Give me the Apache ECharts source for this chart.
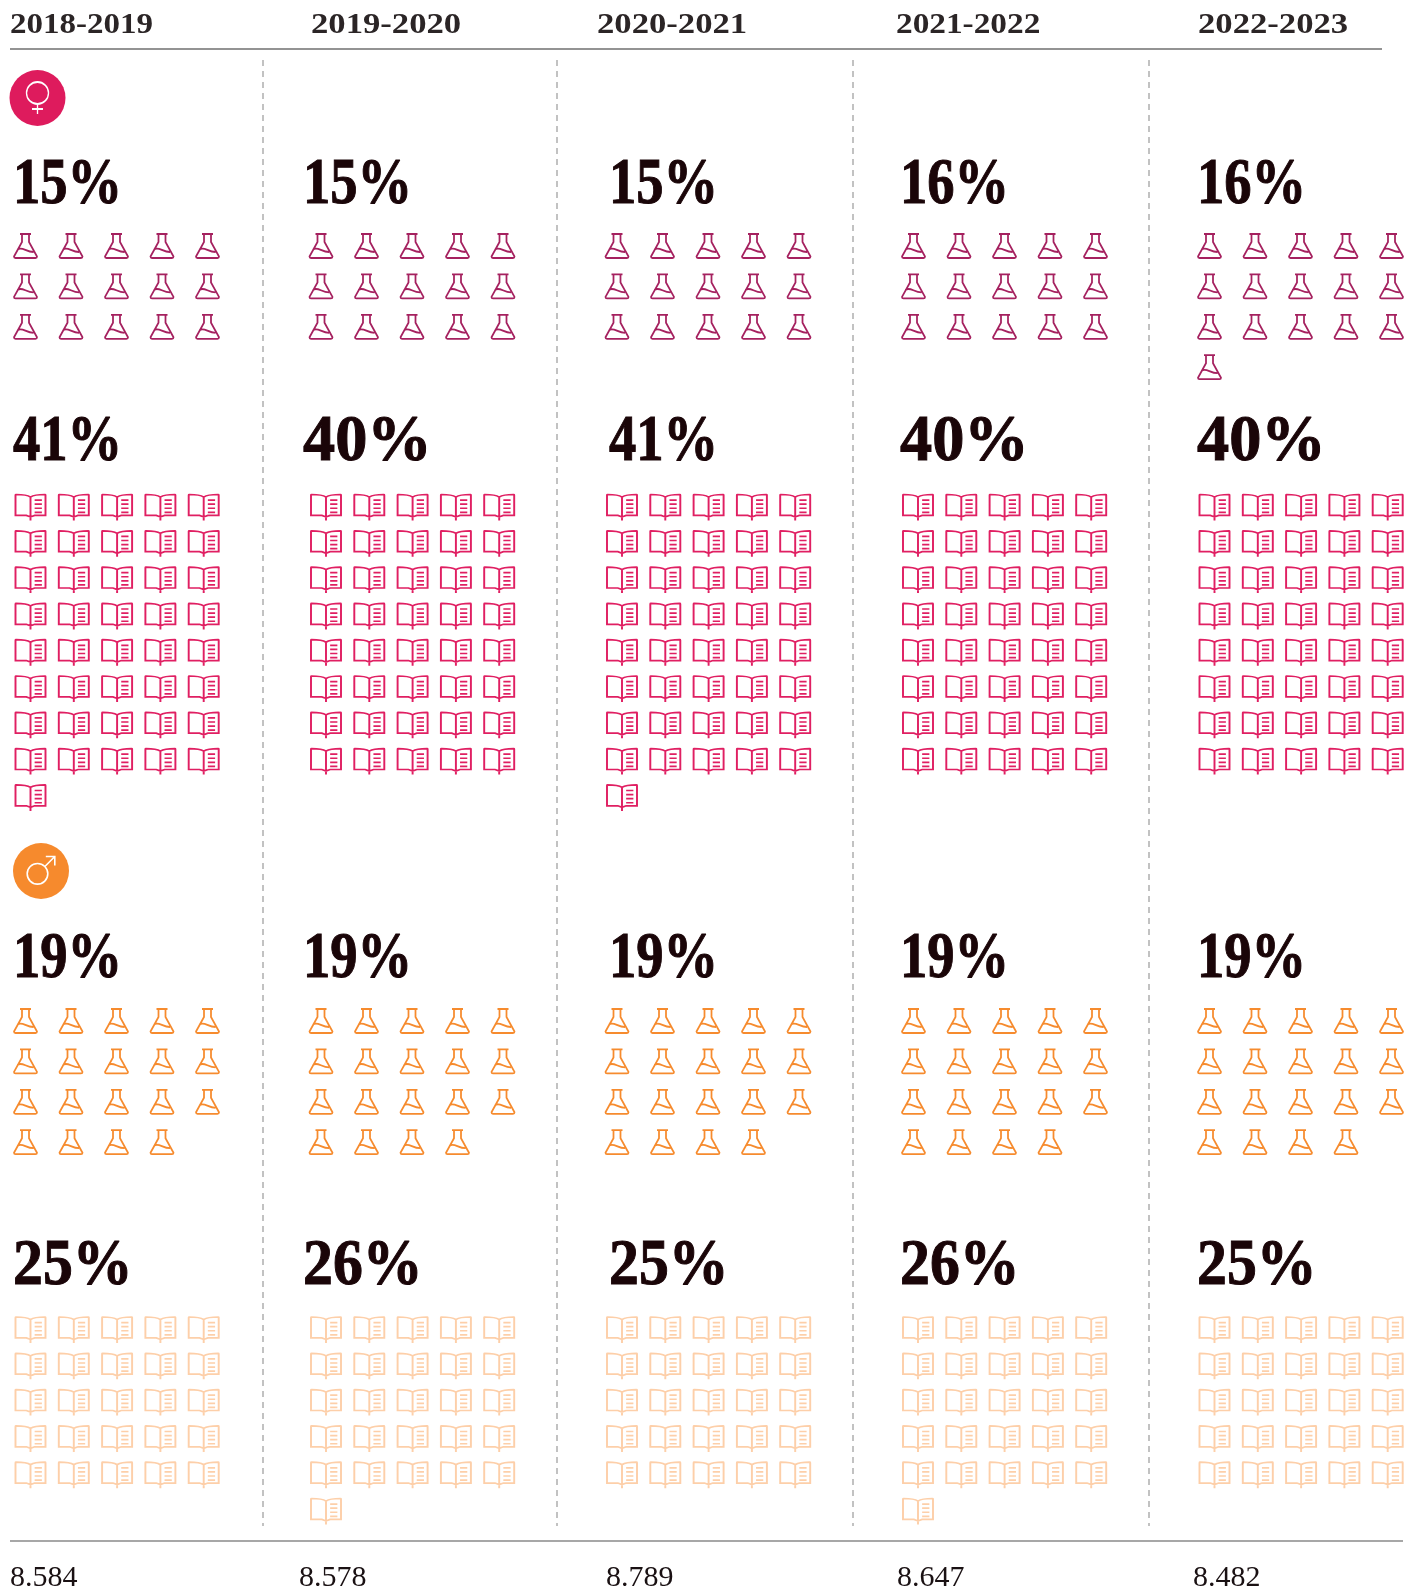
<!DOCTYPE html>
<html lang="en">

<head>
    <meta charset="UTF-8">
    <title>Unit chart</title>
    <script src="https://cdn.jsdelivr.net/npm/echarts@6/dist/echarts.min.js"></script>
    <style>
        html, body { margin: 0; padding: 0; background: #fff; }
        #main { width: 1415px; height: 1588px; }
    </style>
</head>

<body>
    <div id="main"></div>

    <script>
        // data
        var years = ['2018-2019', '2019-2020', '2020-2021', '2021-2022', '2022-2023'];
        var totals = ['8.584', '8.578', '8.789', '8.647', '8.482'];

        // printed percentages
        var womenFlaskPct = [15, 15, 15, 16, 16];
        var womenBookPct = [41, 40, 41, 40, 40];
        var menFlaskPct = [19, 19, 19, 19, 19];
        var menBookPct = [25, 26, 25, 26, 25];

        // number of icons drawn (not always the same as the printed figure)
        var womenFlaskIcons = [15, 15, 15, 15, 16];
        var womenBookIcons = [41, 40, 41, 40, 40];
        var menFlaskIcons = [19, 19, 19, 19, 19];
        var menBookIcons = [25, 26, 25, 26, 25];

        // page layout, in page pixels
        var headerX = [10, 311, 597, 896, 1198];
        var headerScale = [1.1, 1.155, 1.155, 1.11, 1.155];
        var percentX = [13, 303, 609, 900, 1197];
        var totalX = [10, 299, 606, 897, 1193];
        var flaskX = [25.5, 321, 617, 913.5, 1209.5];
        var bookX = [30.5, 326, 622, 918, 1214.5];
        var dividerX = [263, 557, 853, 1149];

        var FLASK = 'path://M6 0H17M8 0V8L0 22.5Q0 24 1.5 24H21.5Q23 24 23 22.5L15 8V0M3.5 15.5C8 12 12 18 19.5 18';
        var BOOK = 'path://M15 3C12 1 8 0.5 1 0.5Q0.5 0.5 0.5 1V21H11L15 22.5L19 21H29.5V1Q29.5 0.5 29 0.5C22 0.5 18 1 15 3ZM15 3V26M19 6H26M19 10H26M19 14H26M19 18H26';
        var VENUS = 'path://M11 0A11 11 0 1 1 10.99 0ZM11 22V32M5.5 27H16.5';
        var MARS = 'path://M10.3 6.9A10.3 10.3 0 1 1 10.29 6.9ZM17.7 10L27.6 0M18.6 0H27.6V9';

        var blocks = [
            { pct: womenFlaskPct, icons: womenFlaskIcons, symbol: FLASK, size: [23, 24], color: '#a5215f', xs: flaskX, dx: 45.5, y0: 246, dy: 40.4, labelY: 186.5 },
            { pct: womenBookPct, icons: womenBookIcons, symbol: BOOK, size: [30, 26], color: '#e01f62', xs: bookX, dx: 43.3, y0: 507.5, dy: 36.3, labelY: 443.5 },
            { pct: menFlaskPct, icons: menFlaskIcons, symbol: FLASK, size: [23, 24], color: '#f68b2e', xs: flaskX, dx: 45.5, y0: 1021, dy: 40.4, labelY: 960.5 },
            { pct: menBookPct, icons: menBookIcons, symbol: BOOK, size: [30, 26], color: '#fdcfa9', xs: bookX, dx: 43.3, y0: 1330, dy: 36.3, labelY: 1267.5 }
        ];

        // the digit 1 is narrow in the original face, 4 and 0 are wide
        function pctScale(v) {
            var s = String(v);
            if (s.indexOf('1') >= 0) return 0.84;
            if (s.indexOf('4') >= 0) return 0.99;
            return 0.92;
        }

        var series = [];

        // five icons per row, filled left to right
        blocks.forEach(function (b) {
            var pts = [];
            b.icons.forEach(function (n, c) {
                for (var i = 0; i < n; i++) {
                    pts.push([b.xs[c] + (i % 5) * b.dx, b.y0 + Math.floor(i / 5) * b.dy]);
                }
            });
            series.push({
                type: 'scatter',
                silent: true,
                symbol: b.symbol,
                symbolSize: b.size,
                itemStyle: { color: 'none', borderColor: b.color, borderWidth: 1.8, opacity: 1 },
                data: pts
            });
        });

        // text rows: [x, y, string, font, scaleX, color, stroke width]
        var texts = [];
        years.forEach(function (y, c) {
            texts.push([headerX[c], 25, y, 'bold 30px "Liberation Serif"', headerScale[c], '#2b2526', 0]);
            texts.push([totalX[c], 1578, totals[c], '30px "Liberation Serif"', 1, '#1a1113', 0]);
            blocks.forEach(function (b) {
                texts.push([percentX[c], b.labelY, b.pct[c] + '%', 'bold 65px "Liberation Serif"', pctScale(b.pct[c]), '#1a0508', 1]);
            });
        });

        series.push({
            type: 'custom',
            silent: true,
            coordinateSystem: 'cartesian2d',
            data: texts,
            encode: { x: 0, y: 1 },
            renderItem: function (params, api) {
                var t = texts[params.dataIndex];
                var p = api.coord([t[0], t[1]]);
                var style = { text: t[2], font: t[3], fill: t[5], align: 'left', verticalAlign: 'middle' };
                if (t[6]) {
                    style.stroke = t[5];
                    style.lineWidth = t[6];
                }
                return { type: 'text', x: p[0], y: p[1], scaleX: t[4], style: style };
            }
        });

        // rules: [x1, y1, x2, y2, color, dashed]
        var rules = [
            [10, 49, 1382, 49, '#6f6f6f', false],
            [10, 1541, 1403, 1541, '#8a8a8a', false]
        ];
        dividerX.forEach(function (x) {
            rules.push([x, 60, x, 1526, '#b3b3b3', true]);
        });

        series.push({
            type: 'custom',
            silent: true,
            coordinateSystem: 'cartesian2d',
            data: rules,
            encode: { x: [0, 2], y: [1, 3] },
            renderItem: function (params, api) {
                var r = rules[params.dataIndex];
                var a = api.coord([r[0], r[1]]);
                var b = api.coord([r[2], r[3]]);
                return {
                    type: 'line',
                    shape: { x1: a[0], y1: a[1], x2: b[0], y2: b[1] },
                    style: { stroke: r[4], lineWidth: r[5] ? 1.6 : 1.5, lineDash: r[5] ? [6, 5] : null }
                };
            }
        });

        // gender badges
        series.push({
            type: 'scatter',
            silent: true,
            symbol: 'circle',
            symbolSize: 56,
            data: [
                { value: [37.5, 98], itemStyle: { color: '#de1b5d', opacity: 1 } },
                { value: [41, 871], itemStyle: { color: '#f68a2d', opacity: 1 } }
            ]
        });
        series.push({
            type: 'scatter',
            silent: true,
            z: 3,
            itemStyle: { color: 'none', borderColor: '#fff', borderWidth: 1.6, opacity: 1 },
            data: [
                { value: [37.5, 98], symbol: VENUS, symbolSize: [22, 32] },
                { value: [41, 870.3], symbol: MARS, symbolSize: [27.6, 27.6] }
            ]
        });

        var myChart = echarts.init(document.getElementById('main'));
        myChart.setOption({
            animation: false,
            backgroundColor: '#fff',
            grid: { left: 0, right: 0, top: 0, bottom: 0 },
            xAxis: { type: 'value', min: 0, max: 1415, show: false },
            yAxis: { type: 'value', min: 0, max: 1588, inverse: true, show: false },
            series: series
        });
    </script>
</body>

</html>
